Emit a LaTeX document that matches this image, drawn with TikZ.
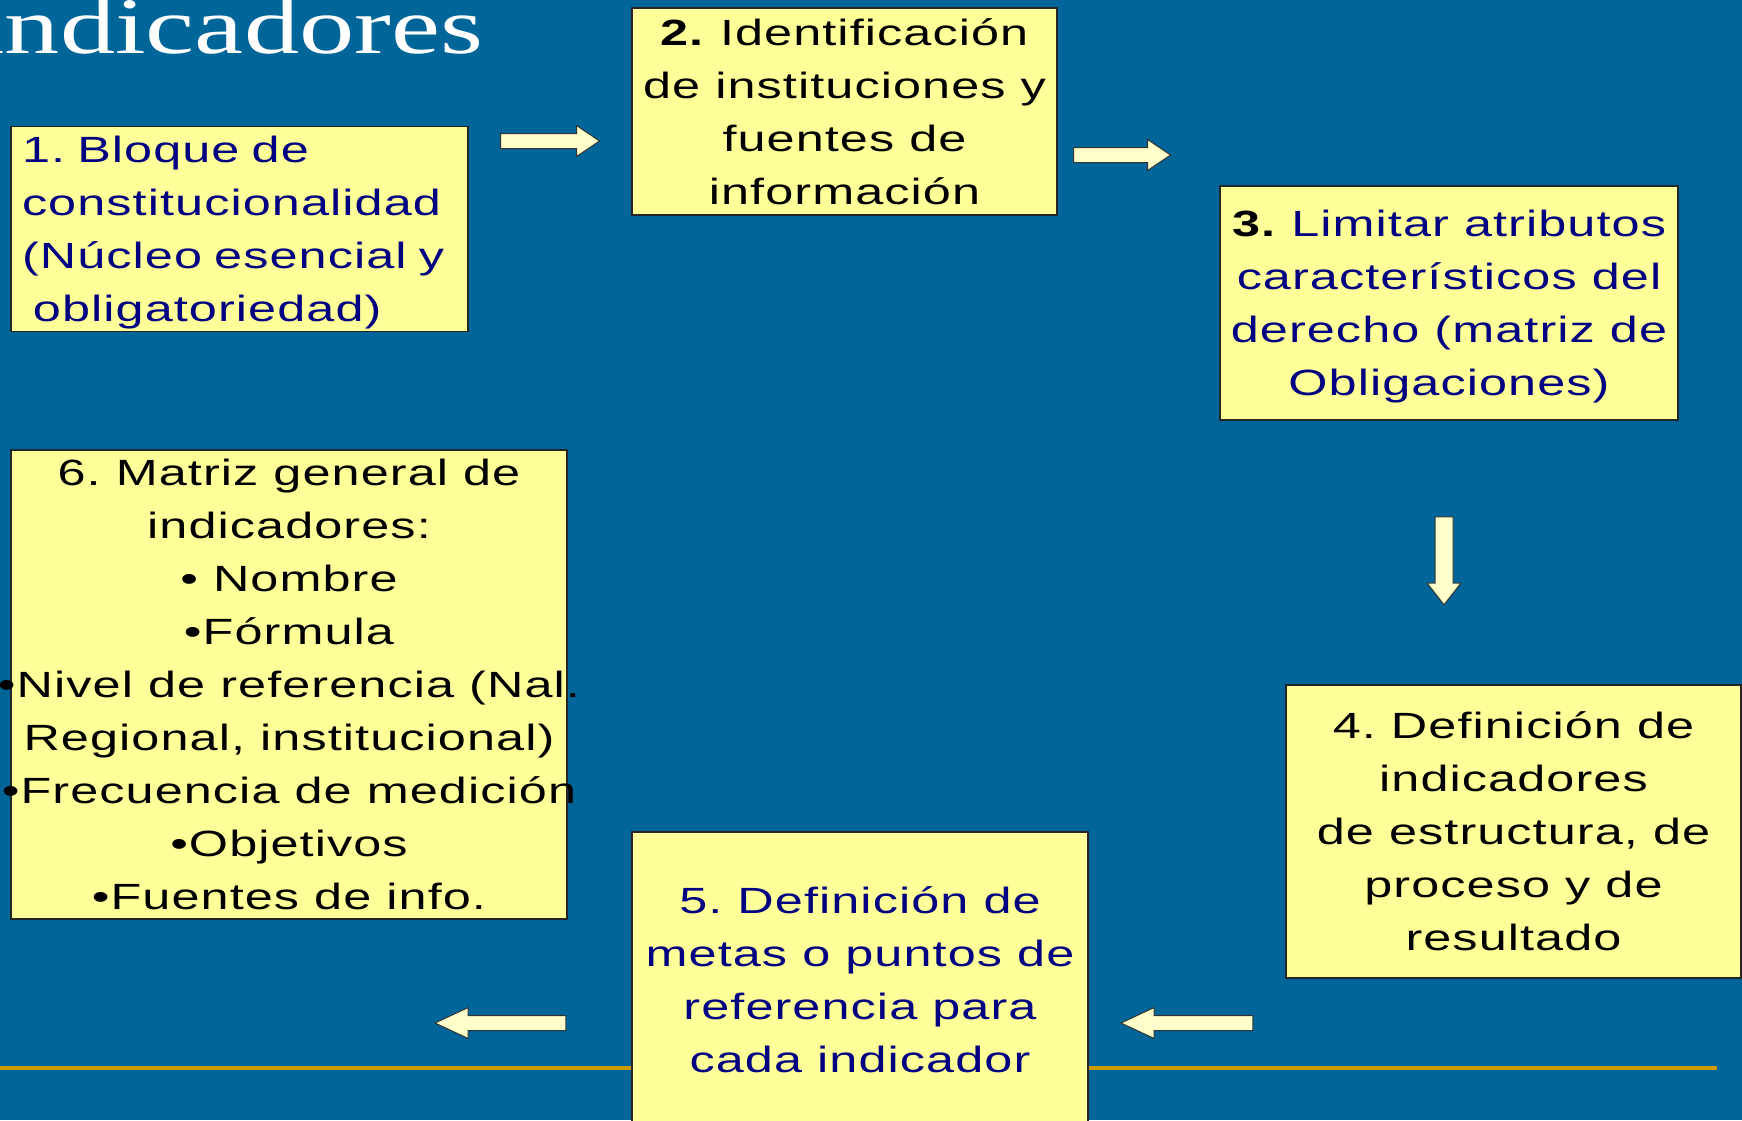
\documentclass[tikz,border=0pt]{standalone}
\usepackage{fontspec}
\setmainfont{Liberation Sans}[FakeStretch=1.38, LetterSpace=3]
\newfontfamily\titlefont{Liberation Serif}[FakeStretch=1.38]
\usetikzlibrary{shapes.arrows}
\definecolor{slidecolor}{RGB}{0, 102, 153}
\definecolor{cardcolor}{RGB}{255, 255, 153}
\definecolor{arrowcolor}{RGB}{255, 255, 204}
\definecolor{navycolor}{RGB}{0, 0, 128}
\definecolor{rulecolor}{RGB}{204, 153, 0}
\newcommand{\topstrut}{\rule{0pt}{36pt}}
\newcommand{\botstrut}{\rule[-10pt]{0pt}{10pt}}
\frenchspacing

\begin{document}
\begin{tikzpicture}[
    x=1pt, y=-1pt,
    card/.style={rectangle, draw=black!85, line width=1.2pt, fill=cardcolor, inner sep=0pt, align=center, font=\fontsize{36.5}{53}\selectfont},
    bluetext/.style={text=navycolor},
    blockarrow/.style={single arrow, draw=black!80, line width=1pt, fill=arrowcolor, inner sep=7pt, single arrow head extend=8pt, single arrow tip angle=68},
    heading/.style={font=\titlefont\fontsize{80}{80}\selectfont, text=white, inner sep=0pt, anchor=base west}
]

% Background
\fill[slidecolor] (0,0) rectangle (1742,1120);
\useasboundingbox (0,0) rectangle (1742,1120);

% Title
\node[heading] (title) at (-26,53) {indicadores};

% Rule
\coordinate (rule_l) at (0,1068);
\coordinate (rule_r) at (1717,1068);
\draw[rulecolor, line width=4pt] (rule_l) -- (rule_r);

% Steps
\node[card, bluetext, align=left, text width=435pt, inner xsep=11pt, minimum width=457pt, minimum height=204pt] (bloque) at (239.5,229)
    {\topstrut 1. Bloque de\\constitucionalidad\\(Núcleo esencial y\\\hspace*{0.3em}obligatoriedad)\botstrut};
\node[card, minimum width=425pt, minimum height=207pt] (fuentes) at (844.5,111.5)
    {\topstrut\textbf{2.} Identificación\\de instituciones y\\fuentes de\\información\botstrut};
\node[card, bluetext, minimum width=458pt, minimum height=234pt] (atributos) at (1449,303)
    {\topstrut{\color{black}\textbf{3.}} Limitar atributos\\característicos del\\derecho (matriz de\\Obligaciones)\botstrut};
\node[card, minimum width=455pt, minimum height=293pt] (estructura) at (1513.5,831.5)
    {\topstrut 4. Definición de\\indicadores\\de estructura, de\\proceso y de\\resultado\botstrut};
\node[card, bluetext, minimum width=456pt, minimum height=296pt] (metas) at (860,980)
    {\topstrut 5. Definición de\\metas o puntos de\\referencia para\\cada indicador\botstrut};

% Matriz (text may overflow the box)
\node[card, minimum width=556pt, minimum height=469pt] (matriz) at (289,684.5) {};
\node[align=center, inner sep=0pt, font=\fontsize{36.5}{53}\selectfont] (matriz_txt) at (matriz.center)
    {\topstrut 6. Matriz general de\\indicadores:\\• Nombre\\•Fórmula\\•Nivel de referencia (Nal.\\Regional, institucional)\\•Frecuencia de medición\\•Objetivos\\•Fuentes de info.\botstrut};

% Block arrows
\node[blockarrow, minimum height=99pt] (arr_12) at (544.5,141) {};
\node[blockarrow, minimum height=97pt] (arr_23) at (1116.5,155) {};
\node[blockarrow, minimum height=88pt, inner sep=8.5pt, single arrow tip angle=76, rotate=-90] (arr_34) at (1444,555) {};
\node[blockarrow, minimum height=132pt, single arrow tip angle=50, rotate=180] (arr_45) at (1195,1023) {};
\node[blockarrow, minimum height=131pt, single arrow tip angle=50, rotate=180] (arr_56) at (508.5,1023) {};

\end{tikzpicture}
\end{document}
